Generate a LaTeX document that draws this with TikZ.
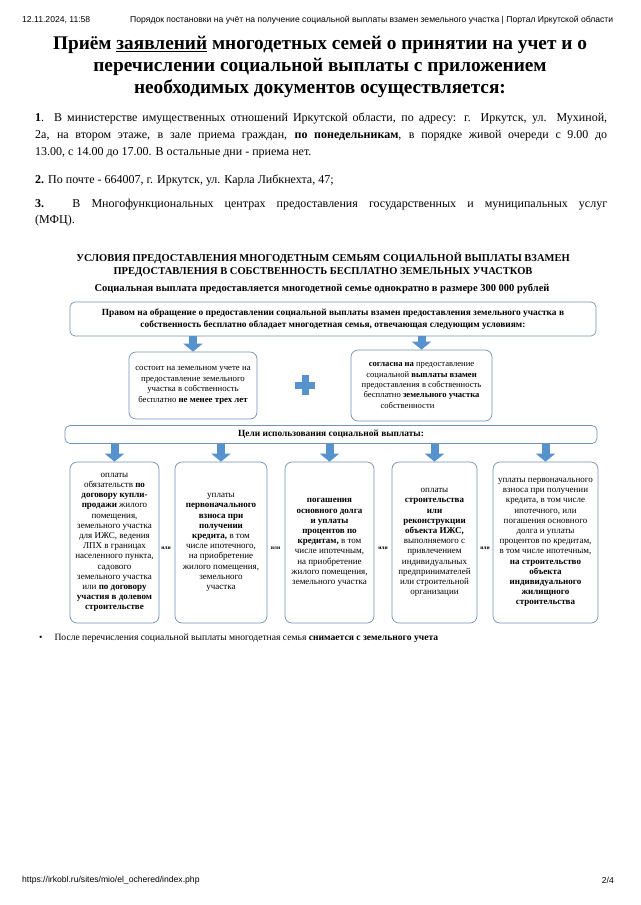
\documentclass[tikz,border=0pt]{standalone}
\usepackage{fontspec}
\setmainfont{Liberation Serif}
\newfontfamily\hdrfont{Liberation Sans}
\usepackage{xcolor}
\usetikzlibrary{positioning,arrows.meta}
\definecolor{boxline}{RGB}{115,145,180}
\definecolor{arrblue}{RGB}{86,146,205}

\begin{document}
\begin{tikzpicture}[x=1pt, y=-1pt,
  box/.style={draw=boxline, line width=0.7pt, rounded corners=7pt, align=center, inner sep=1pt, font=\fontsize{9}{10.2}\selectfont},
  wide/.style={box, rounded corners=5pt, font=\fontsize{9.4}{12.5}\selectfont\bfseries},
  goalbox/.style={box, minimum height=161pt},
  blockarr/.style={draw=arrblue, line width=8pt, -{Triangle[width=19pt,length=8pt]}},
  orlbl/.style={font=\fontsize{5.5}{6}\selectfont\bfseries, inner sep=0pt},
  para/.style={anchor=west, inner sep=0pt, font=\fontsize{12}{14}\selectfont},
  hdr/.style={anchor=west, inner sep=0pt, font=\hdrfont\fontsize{8.6}{10}\selectfont}
]
\useasboundingbox[fill=white] (0,0) rectangle (640,905);

\node[hdr] (date) at (22,20) {12.11.2024, 11:58};
\node[hdr] (pagetitle) at (130,20) {Порядок постановки на учёт на получение социальной выплаты взамен земельного участка | Портал Иркутской области};
\node[font=\fontsize{19.3}{22}\selectfont\bfseries, align=center] (title) at (320,67)
  {Приём \underline{заявлений} многодетных семей о принятии на учет и о\\
   перечислении социальной выплаты с приложением\\
   необходимых документов осуществляется:};

\node[para] (p1a) at (35,118) {\makebox[572pt][s]{\textbf{1}. В министерстве имущественных отношений Иркутской области, по адресу: г. Иркутск, ул. Мухиной,}};
\node[para] (p1b) at (35,136) {\makebox[572pt][s]{2а, на втором этаже, в зале приема граждан, \textbf{по понедельникам}, в порядке живой очереди с 9.00 до}};
\node[para] (p1c) at (35,153) {13.00, с 14.00 до 17.00. В остальные дни - приема нет.};
\node[para] (p2) at (35,180) {\textbf{2.} По почте - 664007, г. Иркутск, ул. Карла Либкнехта, 47;};
\node[para] (p3a) at (35,205) {\makebox[572pt][s]{\textbf{3.} В Многофункциональных центрах предоставления государственных и муниципальных услуг}};
\node[para] (p3b) at (35,221) {(МФЦ).};

\node[font=\fontsize{10.5}{13}\selectfont\bfseries, align=center] (cond) at (323,265)
  {УСЛОВИЯ ПРЕДОСТАВЛЕНИЯ МНОГОДЕТНЫМ СЕМЬЯМ СОЦИАЛЬНОЙ ВЫПЛАТЫ ВЗАМЕН\\
   ПРЕДОСТАВЛЕНИЯ В СОБСТВЕННОСТЬ БЕСПЛАТНО ЗЕМЕЛЬНЫХ УЧАСТКОВ};
\node[font=\fontsize{10.5}{12}\selectfont\bfseries] (amount) at (322,289)
  {Социальная выплата предоставляется многодетной семье однократно в размере 300 000 рублей};

\node[wide, minimum width=526pt, minimum height=34pt] (right) at (333,319)
  {Правом на обращение о предоставлении социальной выплаты взамен предоставления земельного участка в\\
   собственность бесплатно обладает многодетная семья, отвечающая следующим условиям:};
\node[box, minimum width=128pt, minimum height=67pt, font=\fontsize{8.8}{10.6}\selectfont] (onlist) at (193,385.5)
  {состоит на земельном учете на\\предоставление земельного\\участка в собственность\\бесплатно \textbf{не менее трех лет}};
\node[box, minimum width=141pt, minimum height=71pt, font=\fontsize{8.6}{10.4}\selectfont] (consent) at (421.5,385.5)
  {\textbf{согласна на} предоставление\\социальной \textbf{выплаты взамен}\\предоставления в собственность\\бесплатно \textbf{земельного участка}\\собственности\hspace*{28pt}};
\fill[arrblue] (295,381.5) rectangle (315,388.5);
\fill[arrblue] (301.5,375) rectangle (308.5,395);

\node[wide, minimum width=532pt, minimum height=18pt] (goals) at (331,434.5) {Цели использования социальной выплаты:};

\node[goalbox, minimum width=89pt] (purchase) at (114.5,542.5)
  {оплаты\\обязательств \textbf{по}\\\textbf{договору купли-}\\\textbf{продажи} жилого\\помещения,\\земельного участка\\для ИЖС, ведения\\ЛПХ в границах\\населенного пункта,\\садового\\земельного участка\\или \textbf{по договору}\\\textbf{участия в долевом}\\\textbf{строительстве}};
\node[goalbox, minimum width=92pt] (downpay) at (221,542.5)
  {уплаты\\\textbf{первоначального}\\\textbf{взноса при}\\\textbf{получении}\\\textbf{кредита,} в том\\числе ипотечного,\\на приобретение\\жилого помещения,\\земельного\\участка};
\node[goalbox, minimum width=89pt] (repay) at (329.5,542.5)
  {\textbf{погашения}\\\textbf{основного долга}\\\textbf{и уплаты}\\\textbf{процентов по}\\\textbf{кредитам,} в том\\числе ипотечным,\\на приобретение\\жилого помещения,\\земельного участка};
\node[goalbox, minimum width=85pt] (build) at (434.5,542.5)
  {оплаты\\\textbf{строительства}\\\textbf{или}\\\textbf{реконструкции}\\\textbf{объекта ИЖС,}\\выполняемого с\\привлечением\\индивидуальных\\предпринимателей\\или строительной\\организации};
\node[goalbox, minimum width=105pt] (housing) at (545.5,542.5)
  {уплаты первоначального\\взноса при получении\\кредита, в том числе\\ипотечного, или\\погашения основного\\долга и уплаты\\процентов по кредитам,\\в том числе ипотечным,\\\textbf{на строительство}\\\textbf{объекта}\\\textbf{индивидуального}\\\textbf{жилищного}\\\textbf{строительства}};

\node[orlbl] (or1) at (166,548) {или};
\node[orlbl] (or2) at (275.5,548) {или};
\node[orlbl] (or3) at (383,548) {или};
\node[orlbl] (or4) at (485,548) {или};

\draw[blockarr] (right.south -| onlist.north) -- (onlist.north);
\draw[blockarr] (right.south -| consent.north) -- (consent.north);
\foreach \g in {purchase,downpay,repay,build,housing}
  \draw[blockarr] (goals.south -| \g.north) -- (\g.north);

\node[anchor=west, inner sep=0pt, font=\fontsize{9.6}{11}\selectfont] (after) at (39,638)
  {\textbullet\hspace{12pt}После перечисления социальной выплаты многодетная семья \textbf{снимается с земельного учета}};

\node[hdr] (url) at (22,880) {https://irkobl.ru/sites/mio/el\_ochered/index.php};
\node[hdr, anchor=east] (pageno) at (614,880) {2/4};
\end{tikzpicture}
\end{document}
